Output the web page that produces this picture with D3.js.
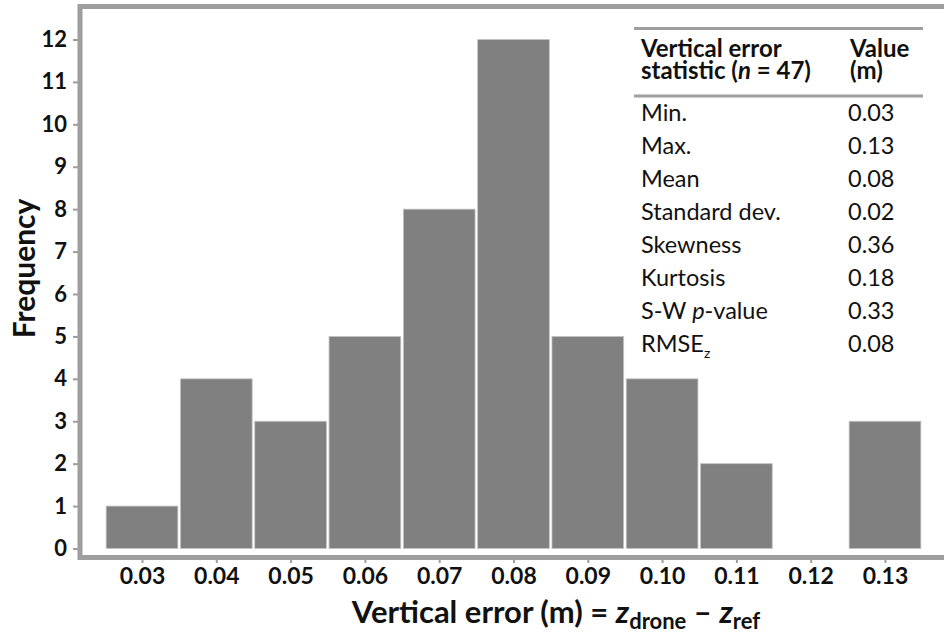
<!DOCTYPE html>
<html><head><meta charset="utf-8">
<script src="https://cdn.jsdelivr.net/npm/d3@7"></script>
<style>
body{margin:0;background:#fff;}
svg{display:block;font-family:Lato, "Open Sans", sans-serif;}
</style></head>
<body><svg id="c" width="944" height="635"></svg>
<script>
const binCenters = [0.03,0.04,0.05,0.06,0.07,0.08,0.09,0.10,0.11,0.12,0.13];
const counts     = [1,4,3,5,8,12,5,4,2,0,3];
const yTicks     = [0,1,2,3,4,5,6,7,8,9,10,11,12];
const statNames  = ["Min.","Max.","Mean","Standard dev.","Skewness","Kurtosis","S-W p-value","RMSEz"];
const statValues = ["0.03","0.13","0.08","0.02","0.36","0.18","0.33","0.08"];

const svg = d3.select("#c");
const x = d3.scaleLinear().domain([0.03,0.13]).range([142,885]);
const y = d3.scaleLinear().domain([0,12]).range([548.5,39.5]);
const binW = 0.01;
const frame = "#9e9e9e";
const ink = "#111";

// bars
svg.append("g").selectAll("rect").data(binCenters.map((c,i)=>({c,n:counts[i]})).filter(d=>d.n>0))
  .join("rect")
  .attr("x", d=>x(d.c-binW/2)+1.3)
  .attr("width", d=>x(d.c+binW/2)-x(d.c-binW/2)-2.6)
  .attr("y", d=>y(d.n))
  .attr("height", d=>y(0)-y(d.n))
  .attr("fill","#808080")
  .attr("stroke","#c4c4c4").attr("stroke-width",0.8);

// frame
svg.append("line").attr("x1",80).attr("x2",80).attr("y1",4).attr("y2",560).attr("stroke",frame).attr("stroke-width",5);
svg.append("line").attr("x1",78).attr("x2",944).attr("y1",6.5).attr("y2",6.5).attr("stroke",frame).attr("stroke-width",5);
svg.append("line").attr("x1",78).attr("x2",944).attr("y1",557.5).attr("y2",557.5).attr("stroke",frame).attr("stroke-width",5);

// y axis
const ya = svg.append("g").attr("transform","translate(78,0)")
  .call(d3.axisLeft(y).tickValues(yTicks).tickSize(5).tickPadding(6).tickFormat(d3.format("d")));
ya.select(".domain").remove();
ya.selectAll(".tick line").attr("stroke",frame).attr("stroke-width",2);
ya.selectAll(".tick text").attr("font-family","Lato").attr("font-size",22).attr("font-weight","bold").attr("fill",ink);

// x axis
const xa = svg.append("g").attr("transform","translate(0,560)")
  .call(d3.axisBottom(x).tickValues(binCenters).tickSize(3).tickPadding(5).tickFormat(d3.format(".2f")));
xa.select(".domain").remove();
xa.selectAll(".tick line").attr("stroke",frame).attr("stroke-width",2);
xa.selectAll(".tick text").attr("font-family","Lato").attr("font-size",23).attr("font-weight","bold").attr("fill",ink);

// axis titles
svg.append("text").attr("transform","translate(35,268.5) rotate(-90)").attr("text-anchor","middle")
  .attr("font-size",30).attr("font-weight","bold").attr("fill",ink).text("Frequency");

const xt = svg.append("text").attr("x",556).attr("y",623).attr("text-anchor","middle")
  .attr("font-size",31).attr("font-weight","bold").attr("fill",ink);
xt.append("tspan").text("Vertical error (m) = ");
xt.append("tspan").attr("font-style","italic").text("z");
xt.append("tspan").attr("font-size",22).attr("dy",6).text("drone");
xt.append("tspan").attr("dy",-6).text(" \u2013 ");
xt.append("tspan").attr("font-style","italic").text("z");
xt.append("tspan").attr("font-size",22).attr("dy",6).text("ref");

// table
const tb = svg.append("g");
tb.append("line").attr("x1",634).attr("x2",923).attr("y1",28.5).attr("y2",28.5).attr("stroke",frame).attr("stroke-width",3);
tb.append("line").attr("x1",634).attr("x2",923).attr("y1",96).attr("y2",96).attr("stroke",frame).attr("stroke-width",3);
const hSize = 24;
tb.append("text").attr("x",641).attr("y",56.5).attr("font-size",hSize).attr("font-weight","bold").attr("fill",ink).text("Vertical error");
const h2 = tb.append("text").attr("x",641).attr("y",79).attr("font-size",hSize).attr("font-weight","bold").attr("fill",ink);
h2.append("tspan").text("statistic (");
h2.append("tspan").attr("font-style","italic").text("n");
h2.append("tspan").text(" = 47)");
tb.append("text").attr("x",850).attr("y",56.5).attr("font-size",hSize).attr("font-weight","bold").attr("fill",ink).text("Value");
tb.append("text").attr("x",850).attr("y",79).attr("font-size",hSize).attr("font-weight","bold").attr("fill",ink).text("(m)");

const bSize = 23.5;
const rowY = i => 120.5 + i*33;
statNames.forEach((nm,i)=>{
  const t = tb.append("text").attr("x",641).attr("y",rowY(i)).attr("font-size",bSize).attr("fill",ink);
  if(nm==="S-W p-value"){
    t.append("tspan").text("S-W ");
    t.append("tspan").attr("font-style","italic").text("p");
    t.append("tspan").text("-value");
  } else if(nm==="RMSEz"){
    t.append("tspan").text("RMSE");
    t.append("tspan").attr("font-size",14).attr("dy",6).text("z");
  } else t.text(nm);
  tb.append("text").attr("x",848).attr("y",rowY(i)).attr("font-size",bSize).attr("fill",ink).text(statValues[i]);
});
</script></body></html>
